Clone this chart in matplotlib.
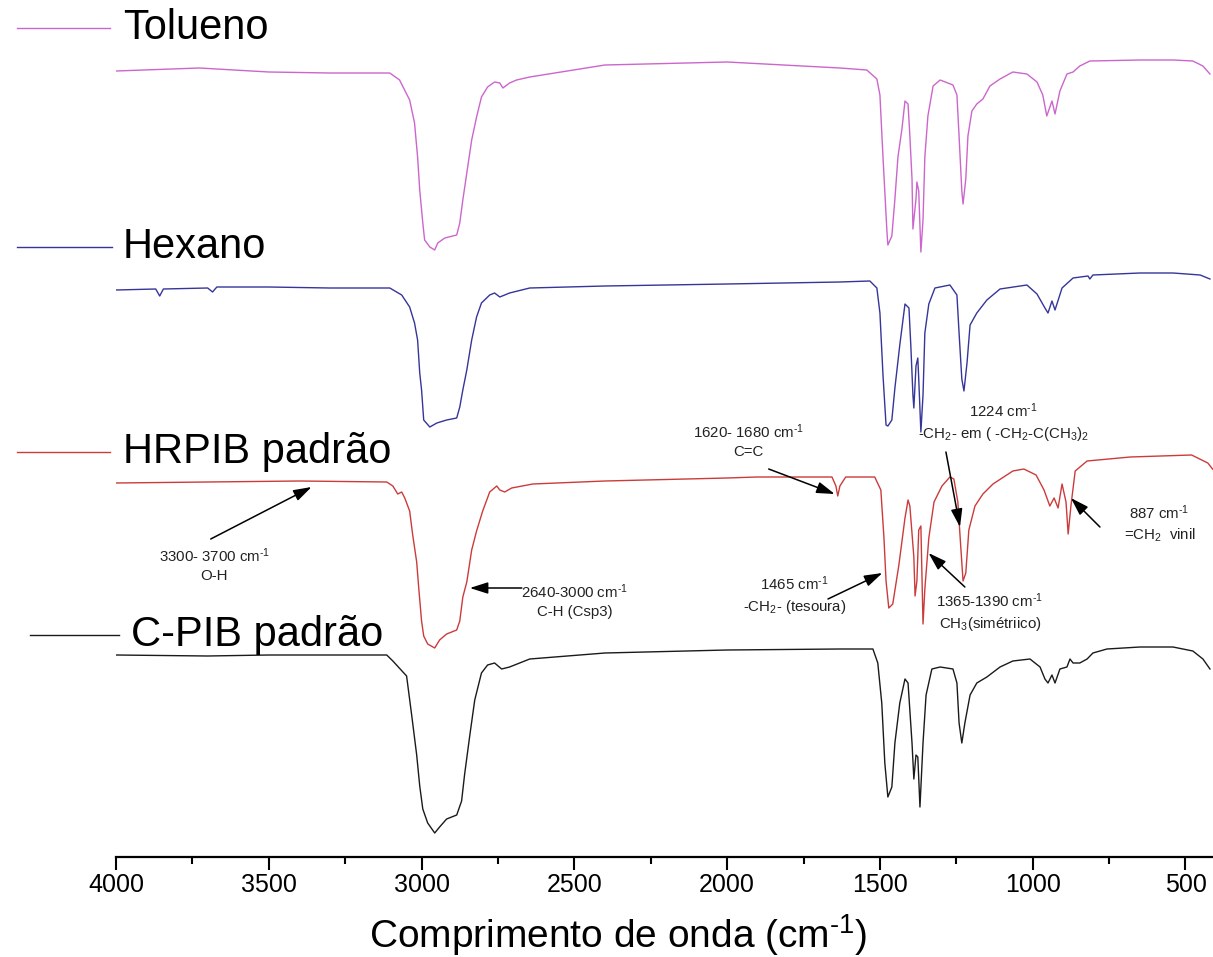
import matplotlib
matplotlib.use('Agg')
import matplotlib.pyplot as plt
from matplotlib.lines import Line2D

plt.rcParams['font.family'] = ['Liberation Sans', 'DejaVu Sans']
plt.rcParams['mathtext.fontset'] = 'custom'
plt.rcParams['mathtext.rm'] = 'Liberation Sans'
plt.rcParams['mathtext.it'] = 'Liberation Sans:italic'

# FTIR spectra, stacked (transmittance, arbitrary units incl. offset)
tol_wn = [4000, 3727, 3500, 3300, 3104, 3072, 3039, 3023, 3013, 3006, 2996, 2990, 2973, 2957,
          2947, 2924, 2885, 2875, 2865, 2852, 2836, 2820, 2804, 2784, 2761, 2744, 2734, 2712,
          2689, 2646, 2400, 2000, 1631, 1543, 1510, 1500, 1490, 1477, 1474, 1461, 1451, 1441,
          1428, 1418, 1408, 1402, 1395, 1392, 1382, 1379, 1373, 1366, 1359, 1353, 1343, 1326,
          1303, 1261, 1248, 1241, 1232, 1228, 1219, 1212, 1199, 1183, 1163, 1140, 1107, 1065,
          1019, 986, 967, 954, 937, 927, 911, 888, 868, 846, 813, 649, 541, 476, 443, 420]
tol_t = [78.6, 78.9, 78.5, 78.4, 78.4, 77.7, 75.7, 73.4, 70.0, 66.7, 63.4, 61.7, 61.0, 60.7,
         61.4, 61.9, 62.2, 63.4, 65.7, 68.4, 71.7, 74.0, 76.0, 77.0, 77.5, 77.4, 76.9, 77.4,
         77.7, 78.0, 79.2, 79.5, 78.9, 78.7, 77.8, 76.2, 70.0, 62.5, 61.2, 62.1, 65.8, 70.0,
         72.8, 75.6, 75.3, 72.1, 67.8, 62.8, 65.8, 67.5, 66.6, 60.5, 63.7, 70.0, 74.1, 77.1,
         77.7, 77.2, 76.2, 72.1, 66.6, 65.3, 67.8, 72.1, 74.6, 75.3, 75.8, 77.1, 77.8, 78.5,
         78.3, 77.5, 76.2, 74.1, 75.6, 74.3, 76.6, 78.3, 78.5, 79.1, 79.6, 79.7, 79.7, 79.6, 79.1, 78.3]

hex_wn = [4000, 3870, 3857, 3845, 3700, 3684, 3670, 3500, 3301, 3104, 3065, 3039, 3023, 3013,
          3006, 3000, 2993, 2973, 2950, 2918, 2885, 2875, 2865, 2852, 2836, 2820, 2804, 2777,
          2761, 2744, 2712, 2646, 2400, 2000, 1631, 1533, 1510, 1500, 1490, 1480, 1474, 1461,
          1451, 1435, 1418, 1405, 1399, 1392, 1389, 1382, 1376, 1373, 1366, 1359, 1353, 1340,
          1320, 1271, 1248, 1241, 1232, 1225, 1215, 1205, 1183, 1150, 1107, 1019, 986, 960,
          950, 937, 927, 904, 868, 819, 813, 803, 649, 541, 452, 420]
hex_t = [56.7, 56.8, 56.1, 56.8, 56.9, 56.5, 57.0, 57.0, 56.9, 56.9, 56.2, 55.0, 53.4, 51.7,
         48.4, 46.7, 43.7, 43.0, 43.4, 43.7, 43.9, 45.0, 46.7, 48.7, 51.7, 54.0, 55.4, 56.2,
         56.4, 56.0, 56.4, 56.9, 57.1, 57.3, 57.5, 57.6, 56.9, 54.4, 48.2, 43.2, 43.1, 43.7,
         46.9, 51.2, 55.3, 54.9, 51.2, 46.2, 44.9, 49.1, 49.9, 47.8, 42.5, 46.2, 52.4, 55.3,
         56.9, 57.2, 56.2, 52.4, 47.8, 46.6, 49.4, 53.2, 54.4, 55.7, 56.8, 57.2, 56.3, 54.9,
         54.4, 55.6, 54.7, 56.9, 57.9, 58.1, 57.8, 58.2, 58.4, 58.4, 58.2, 57.8]

hr_wn = [4000, 3700, 3400, 3114, 3094, 3078, 3065, 3055, 3039, 3029, 3016, 3009, 3000, 2993,
         2980, 2957, 2941, 2918, 2885, 2875, 2865, 2852, 2836, 2820, 2800, 2777, 2754, 2744,
         2728, 2705, 2636, 2400, 2000, 1903, 1657, 1644, 1638, 1631, 1612, 1517, 1497, 1487,
         1480, 1471, 1458, 1438, 1418, 1408, 1402, 1389, 1385, 1379, 1373, 1366, 1359, 1353,
         1340, 1323, 1297, 1271, 1258, 1245, 1235, 1228, 1219, 1209, 1189, 1163, 1130, 1065,
         1029, 989, 963, 944, 930, 917, 904, 891, 884, 875, 861, 822, 681, 480, 427, 401]
hr_t = [37.4, 37.5, 37.6, 37.5, 37.1, 36.3, 36.5, 35.9, 34.6, 32.2, 29.5, 26.8, 23.6, 22.1,
        21.3, 20.9, 21.7, 22.3, 22.7, 23.6, 26.0, 27.5, 30.7, 32.6, 34.6, 36.5, 37.1, 36.7,
        36.5, 36.9, 37.3, 37.6, 37.9, 38.0, 38.0, 37.1, 36.1, 37.1, 38.0, 38.0, 36.7, 32.0,
        27.6, 24.9, 25.3, 29.2, 33.9, 35.7, 35.1, 30.0, 26.1, 27.6, 32.7, 33.1, 23.3, 26.8,
        31.9, 35.5, 37.1, 38.0, 37.8, 35.5, 30.8, 27.6, 28.4, 32.7, 35.1, 36.3, 37.3, 38.6,
        38.8, 38.2, 36.7, 35.1, 35.9, 34.9, 37.3, 35.5, 32.3, 35.1, 38.6, 39.6, 40.0, 40.2, 39.4, 38.4]

cp_wn = [4000, 3700, 3500, 3300, 3114, 3094, 3049, 3032, 3016, 3006, 2996, 2980, 2957, 2941,
         2918, 2885, 2869, 2859, 2842, 2826, 2804, 2784, 2761, 2738, 2712, 2679, 2646, 2400,
         2000, 1631, 1523, 1507, 1494, 1484, 1474, 1461, 1451, 1435, 1418, 1408, 1395, 1389,
         1382, 1376, 1369, 1359, 1349, 1330, 1303, 1261, 1248, 1241, 1232, 1222, 1205, 1183,
         1150, 1107, 1065, 1009, 976, 960, 950, 937, 927, 911, 888, 878, 868, 846, 822, 803,
         757, 649, 541, 476, 443, 420]
cp_t = [20.2, 20.1, 20.2, 20.2, 20.2, 19.6, 18.1, 14.1, 10.2, 7.1, 4.8, 3.4, 2.4, 3.0,
        3.8, 4.2, 5.6, 8.3, 12.2, 15.7, 18.4, 19.2, 19.4, 18.8, 19.0, 19.4, 19.8, 20.4,
        20.7, 20.8, 20.8, 19.4, 15.4, 9.4, 6.0, 7.0, 11.4, 15.4, 17.8, 17.4, 11.4, 7.8,
        10.2, 10.0, 5.0, 11.4, 16.2, 18.8, 19.0, 18.8, 17.4, 13.4, 11.4, 13.4, 16.2, 17.4,
        18.0, 19.0, 19.6, 19.8, 19.0, 17.8, 17.4, 18.2, 17.4, 18.8, 19.0, 19.8, 19.4, 19.4, 19.8, 20.4,
        20.8, 21.0, 21.0, 20.6, 19.8, 18.8]

names = ['Tolueno', 'Hexano', 'HRPIB padrão', 'C-PIB padrão']
colors = ['#cc66cc', '#35359a', '#cc3b3b', '#1a1a1a']
series = [(tol_wn, tol_t), (hex_wn, hex_t), (hr_wn, hr_t), (cp_wn, cp_t)]

INV = r'$^{\text{-}1}$'

# band assignments: (text, text pos, arrow tail, arrow tip)
notes = [
    ('3300- 3700 cm' + INV + '\nO-H', (3678, 29.2), (3690, 31.8), (3360, 37.0)),
    ('2640-3000 cm' + INV + '\nC-H (Csp3)', (2500, 25.6), (2672, 26.9), (2842, 26.9)),
    ('1620- 1680 cm' + INV + '\nC=C', (1929, 41.6), (1864, 38.8), (1648, 36.3)),
    ('1224 cm' + INV + '\n-CH$_2$- em ( -CH$_2$-C(CH$_3$)$_2$', (1095, 43.5), (1284, 40.5), (1238, 33.0)),
    ('887 cm' + INV + '\n=CH$_2$  vinil', (585, 33.3), (780, 33.0), (875, 35.9)),
    ('1465 cm' + INV + '\n-CH$_2$- (tesoura)', (1780, 26.2), (1670, 25.8), (1492, 28.4)),
    ('1365-1390 cm' + INV + '\nCH$_3$(simétriico)', (1140, 24.5), (1222, 27.0), (1341, 30.4)),
]

fig = plt.figure(figsize=(12.13, 9.57), dpi=100)
ax = fig.add_axes([116 / 1213, 1 - 857 / 957, 1 - 116 / 1213, 857 / 957])

for (wn, t), c in zip(series, colors):
    ax.plot(wn, t, color=c, lw=1.0)

for text, tpos, tail, tip in notes:
    ax.text(tpos[0], tpos[1], text, ha='center', va='center', fontsize=10.8,
            color='#222222', linespacing=1.35)
    ax.annotate('', xy=tip, xytext=tail,
                arrowprops=dict(arrowstyle='-|>,head_length=1.1,head_width=0.35',
                                color='black', lw=1.1, shrinkA=0, shrinkB=0))

ax.set_xlim(4000, 410)
ax.set_ylim(0, 85.7)
ax.set_xticks(range(4000, 400, -500))
ax.set_xticks(range(3750, 400, -500), minor=True)
ax.tick_params(axis='x', which='major', direction='out', length=9, width=1.5,
               labelsize=18, pad=2.5)
ax.tick_params(axis='x', which='minor', direction='out', length=5, width=1.5)
ax.set_yticks([])
for side in ['top', 'right', 'left']:
    ax.spines[side].set_visible(False)
ax.spines['bottom'].set_linewidth(1.6)
ax.set_xlabel('Comprimento de onda (cm' + INV + ')', fontsize=28)
ax.xaxis.set_label_coords(0.458, -0.091)
ax.xaxis.label.set_va('center')

# legend-like labels at the left of each trace
leg_y = [28, 247, 452, 635]
leg_x0 = [17, 17, 17, 30]
leg_x1 = [110, 112, 110, 119]
txt_x = [123, 123, 123, 131]
for name, c, y, x0, x1, tx in zip(names, colors, leg_y, leg_x0, leg_x1, txt_x):
    yf = 1 - y / 957
    fig.add_artist(Line2D([x0 / 1213, x1 / 1213], [yf, yf], color=c, lw=1.0))
    fig.text(tx / 1213, yf, name, fontsize=30, va='center', ha='left')

fig.savefig('out.png', dpi=100)
